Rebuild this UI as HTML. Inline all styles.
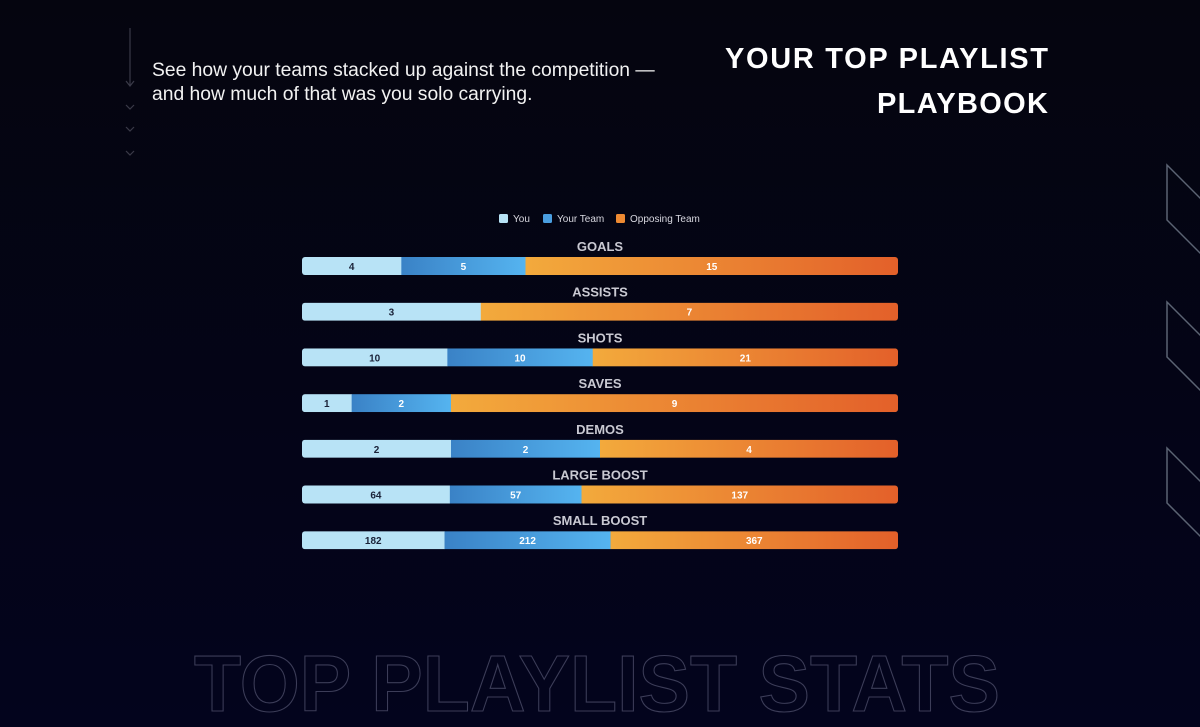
<!DOCTYPE html>
<html><head><meta charset="utf-8"><style>
html,body{margin:0;padding:0;width:1200px;height:727px;overflow:hidden;background:#03031a}
svg{display:block}
</style></head><body>
<svg width="1200" height="727" viewBox="0 0 1200 727">
<defs>
<linearGradient id="bg" x1="0" y1="0" x2="0" y2="1"><stop offset="0" stop-color="#05050f"/><stop offset="1" stop-color="#03041d"/></linearGradient>
<linearGradient id="gYou" x1="0" x2="1"><stop offset="0" stop-color="#b8e3f6"/><stop offset="1" stop-color="#b8e3f6"/></linearGradient>
<linearGradient id="gTeam" x1="0" x2="1"><stop offset="0" stop-color="#3a82c6"/><stop offset="1" stop-color="#55b4f0"/></linearGradient>
<linearGradient id="gOpp" x1="0" x2="1"><stop offset="0" stop-color="#f3aa3c"/><stop offset="1" stop-color="#e3602a"/></linearGradient>
</defs>
<rect width="1200" height="727" fill="url(#bg)"/>
<g stroke="#3a3a48" stroke-width="1.2" fill="none">
<line x1="130" y1="28" x2="130" y2="86"/>
<polyline points="126,81 130,86 134,81"/>
<polyline points="126,105 130,109 134,105"/>
<polyline points="126,127 130,131 134,127"/>
<polyline points="126,151 130,155 134,151"/>
</g>
<text x="152" y="76" fill="#f2f2f2" font-family="Liberation Sans, sans-serif" font-size="19.3">See how your teams stacked up against the competition —</text>
<text x="152" y="100" fill="#f2f2f2" font-family="Liberation Sans, sans-serif" font-size="19.3">and how much of that was you solo carrying.</text>
<text x="1048" y="68" text-anchor="end" fill="#ffffff" font-family="Liberation Sans, sans-serif" font-weight="bold" font-size="29" textLength="323" lengthAdjust="spacing">YOUR TOP PLAYLIST</text>
<text x="1048" y="113" text-anchor="end" fill="#ffffff" font-family="Liberation Sans, sans-serif" font-weight="bold" font-size="29" textLength="171" lengthAdjust="spacing">PLAYBOOK</text>
<g stroke="#5b6373" stroke-width="1.5" fill="none">
<polyline points="1202,200 1167,165 1167,220 1202,255"/>
<polyline points="1202,337 1167,302 1167,357 1202,392"/>
<polyline points="1202,483 1167,448 1167,503 1202,538"/>
</g>
<text x="194" y="711" fill="none" stroke="#3c3d58" stroke-width="1.1" font-family="Liberation Sans, sans-serif" font-weight="bold" font-size="80" textLength="806" lengthAdjust="spacingAndGlyphs">TOP PLAYLIST STATS</text>
<g font-family="Liberation Sans, sans-serif" font-size="10" fill="#d8d8e0">
<rect x="499" y="214" width="9" height="9" rx="1.5" fill="#b8e3f6"/>
<text x="513" y="222">You</text>
<rect x="543" y="214" width="9" height="9" rx="1.5" fill="#4a9ee0"/>
<text x="557" y="222">Your Team</text>
<rect x="616" y="214" width="9" height="9" rx="1.5" fill="#ee8a32"/>
<text x="630" y="222">Opposing Team</text>
</g>
<g id="chart"></g>
</svg>
<script>
const categories = ["GOALS","ASSISTS","SHOTS","SAVES","DEMOS","LARGE BOOST","SMALL BOOST"];
const youValues = [4,3,10,1,2,64,182];
const teamValues = [5,0,10,2,2,57,212];
const oppValues = [15,7,21,9,4,137,367];
const NS = "http://www.w3.org/2000/svg";
const chart = document.getElementById("chart");
const x0 = 302, x1 = 898, barH = 18, rowTop = 257, rowStep = 45.7;
function yRow(i){ return rowTop + i*rowStep; }
const fills = ["url(#gYou)","url(#gTeam)","url(#gOpp)"];
const txtCol = ["#1a2238","#ffffff","#ffffff"];
const segNames = ["you","team","opp"];
categories.forEach((cat,i)=>{
  const vals=[youValues[i],teamValues[i],oppValues[i]];
  const total=vals.reduce((a,b)=>a+b,0);
  const xs = v => (x1-x0)*v/total;
  const y=yRow(i);
  const lab=document.createElementNS(NS,"text");
  lab.setAttribute("x",600);lab.setAttribute("y",y-6);
  lab.setAttribute("text-anchor","middle");lab.setAttribute("fill","#c9c9d2");
  lab.setAttribute("font-family","Liberation Sans, sans-serif");lab.setAttribute("font-weight","bold");lab.setAttribute("font-size","13");
  lab.textContent=cat;
  
  
  chart.appendChild(lab);
  const cp=document.createElementNS(NS,"clipPath");cp.setAttribute("id","c"+i);
  const cr=document.createElementNS(NS,"rect");
  cr.setAttribute("x",x0);cr.setAttribute("y",y);cr.setAttribute("width",x1-x0);cr.setAttribute("height",barH);cr.setAttribute("rx",3);
  cp.appendChild(cr);chart.appendChild(cp);
  const g=document.createElementNS(NS,"g");g.setAttribute("clip-path","url(#c"+i+")");
  
  
  chart.appendChild(g);
  let cx=x0;
  vals.forEach((v,k)=>{
    if(v<=0) return;
    const w=xs(v);
    const r=document.createElementNS(NS,"rect");
    r.setAttribute("x",cx);r.setAttribute("y",y);r.setAttribute("width",w+0.3);r.setAttribute("height",barH);r.setAttribute("fill",fills[k]);
    
    
    g.appendChild(r);
    const t=document.createElementNS(NS,"text");
    t.setAttribute("x",cx+w/2);t.setAttribute("y",y+13);t.setAttribute("text-anchor","middle");
    t.setAttribute("fill",txtCol[k]);t.setAttribute("font-family","Liberation Sans, sans-serif");t.setAttribute("font-weight","bold");t.setAttribute("font-size","10");
    t.textContent=v;
    
    
    chart.appendChild(t);
    cx+=w;
  });
});
</script>
</body></html>
